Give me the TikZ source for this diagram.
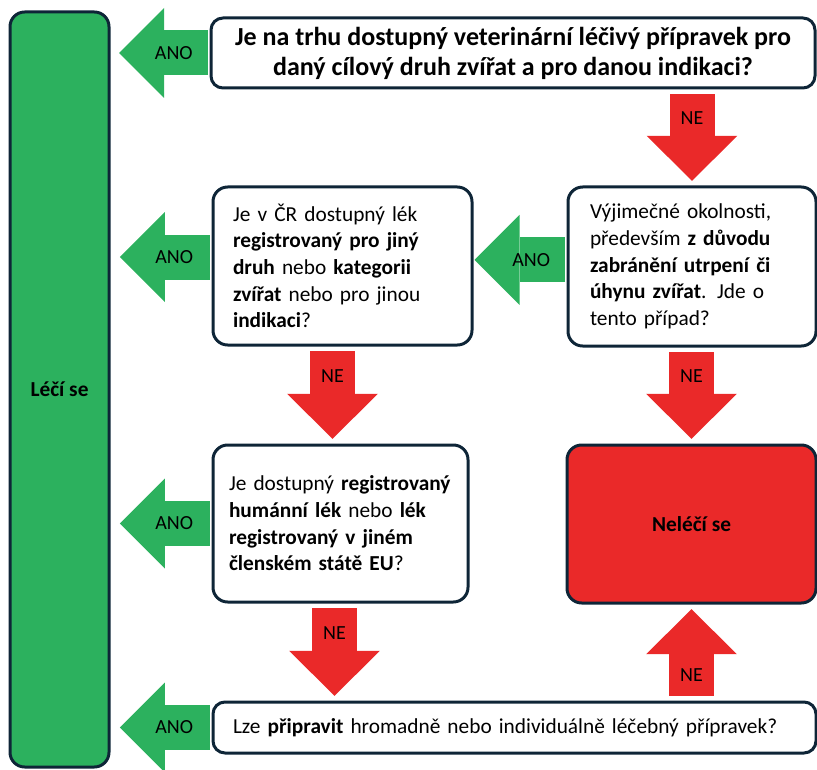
\documentclass[tikz,border=0pt]{standalone}
\usepackage{fontspec}
\setmainfont{Carlito}
\usetikzlibrary{arrows.meta}
\definecolor{anogreen}{RGB}{44,177,94}
\definecolor{nered}{RGB}{234,41,41}
\definecolor{boxline}{RGB}{14,37,55}

\begin{document}
\begin{tikzpicture}[x=0.75pt, y=-0.75pt,
    box/.style={draw=boxline, line width=2.25pt, rounded corners=11pt, fill=white, font=\fontsize{16}{20}\selectfont},
    ano/.style={draw=anogreen, line width=33.75pt, -{Triangle[length=33.75pt, width=67.5pt, line width=0pt]}, shorten <=1.5pt},
    ne/.style={draw=nered, line width=33.75pt, -{Triangle[length=33.75pt, width=68pt, line width=0pt]}, shorten <=3.5pt, shorten >=3.5pt},
    lbl/.style={font=\fontsize{15}{18}\selectfont, inner sep=0pt}]
\useasboundingbox (0,0) rectangle (817,770);

% result boxes
\node[box, fill=anogreen, minimum width=74.25pt, minimum height=566.25pt] (leci) at (59.5,389.5) {\textbf{Léčí se}};
\node[box, fill=nered, minimum width=186.75pt, minimum height=118.5pt] (neleci) at (691.5,524) {\textbf{Neléčí se}};

% questions
\node[box, minimum width=453pt, minimum height=52.5pt, rounded corners=9pt, align=center, font=\fontsize{19.5}{22.5}\selectfont\bfseries] (q1) at (513,53)
    {Je na trhu dostupný veterinární léčivý přípravek pro\\daný cílový druh zvířat a pro danou indikaci?};
\node[box, minimum width=194.25pt, minimum height=118.5pt, text width=164.25pt, align=left] (qB) at (342.5,266)
    {Je v ČR dostupný lék\\\textbf{registrovaný pro jiný}\\\textbf{druh} nebo \textbf{kategorii}\\\textbf{zvířat} nebo pro jinou\\\textbf{indikaci}?};
\node[box, minimum width=186pt, minimum height=119.25pt, text width=153pt, align=left] (qC) at (692,266.5)
    {Výjimečné okolnosti,\\především \textbf{z důvodu}\\\textbf{zabránění utrpení či}\\\textbf{úhynu zvířat}. Jde o\\tento případ?};
\node[box, minimum width=191.25pt, minimum height=117.75pt, text width=167.25pt, align=left] (qD) at (340.5,523.5)
    {Je dostupný \textbf{registrovaný}\\\textbf{humánní lék} nebo \textbf{lék}\\\textbf{registrovaný v jiném}\\\textbf{členském státě EU}?};
\node[box, minimum width=452.25pt, minimum height=38.25pt, rounded corners=9pt, text width=422.25pt, align=left] (qF) at (514.5,727.5)
    {Lze \textbf{připravit} hromadně nebo individuálně léčebný přípravek?};

% ANO arrows
\draw[ano, shorten >=6.5pt] (q1.west) -- (q1.west -| leci.east) node[lbl, pos=.36] {ANO};
\draw[ano, shorten >=7pt] ([yshift=6.75pt]qB.west) -- ([yshift=6.75pt]qB.west -| leci.east) node[lbl, pos=.37] {ANO};
\draw[ano, shorten >=0.75pt] ([yshift=5pt]qC.west) -- ([yshift=5pt]qC.west -| qB.east) node[lbl, pos=.38] {ANO};
\draw[ano, shorten >=7pt] (qD.west) -- (qD.west -| leci.east) node[lbl, pos=.37] {ANO};
\draw[ano, shorten >=7pt] (qF.west) -- (qF.west -| leci.east) node[lbl, pos=.37] {ANO};

% NE arrows
\draw[ne] (qC.north |- q1.south) -- (qC.north) node[lbl, pos=.3] {NE};
\draw[ne] ([xshift=-7.5pt]qB.south) -- ([xshift=-7.5pt]qB.south |- qD.north) node[lbl, pos=.31] {NE};
\draw[ne] (neleci.north |- qC.south) -- (neleci.north) node[lbl, pos=.3] {NE};
\draw[ne] ([xshift=-4.5pt]qD.south) -- ([xshift=-4.5pt]qD.south |- qF.north) node[lbl, pos=.31] {NE};
\draw[ne] (neleci.south |- qF.north) -- (neleci.south) node[lbl, pos=.27] {NE};
\end{tikzpicture}
\end{document}
